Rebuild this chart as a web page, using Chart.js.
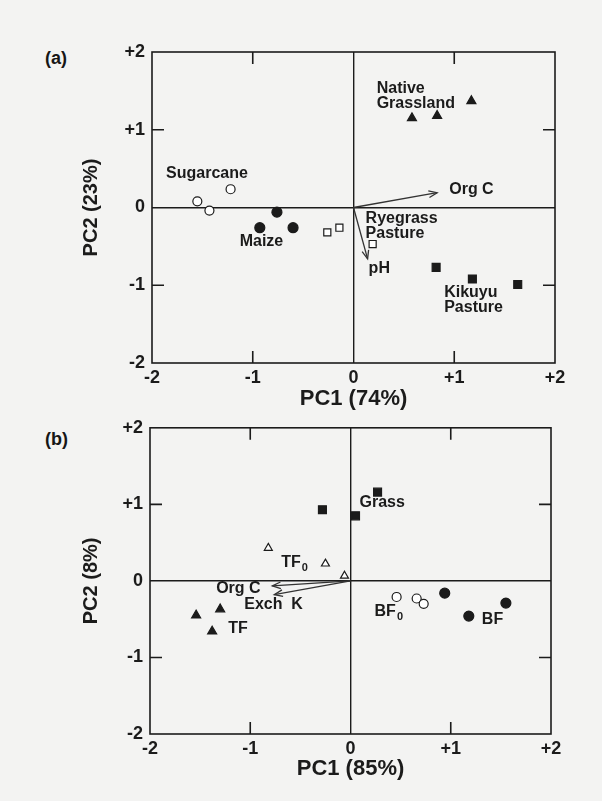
<!DOCTYPE html>
<html>
<head>
<meta charset="utf-8">
<script src="https://cdn.jsdelivr.net/npm/chart.js@4.4.1/dist/chart.umd.min.js"></script>
<style>
  body { margin: 0; background: #f3f3f2; width: 602px; height: 801px; overflow: hidden; position: relative; }
  .wrap { position: absolute; left: 0; width: 602px; }
  #wa { top: 0; height: 410px; }
  #wb { top: 410px; height: 391px; }
  .tag { position: absolute; left: 45px; font: bold 18px "Liberation Sans", Arial, sans-serif; color: #161616; }
</style>
</head>
<body>
<div class="tag" style="top:48px">(a)</div>
<div class="tag" style="top:429px">(b)</div>
<div class="wrap" id="wa"><canvas id="chartA"></canvas></div>
<div class="wrap" id="wb"><canvas id="chartB"></canvas></div>
<script>
// ---- panel (a) ----
const sugarcane = [{x: -1.55, y: 0.08}, {x: -1.43, y: -0.04}, {x: -1.22, y: 0.235}];
const maize = [{x: -0.93, y: -0.26}, {x: -0.76, y: -0.06}, {x: -0.60, y: -0.26}];
const ryegrass = [{x: -0.26, y: -0.32}, {x: -0.14, y: -0.26}, {x: 0.19, y: -0.47}];
const nativeGrass = [{x: 0.58, y: 1.15}, {x: 0.83, y: 1.18}, {x: 1.17, y: 1.37}];
const kikuyu = [{x: 0.82, y: -0.77}, {x: 1.18, y: -0.92}, {x: 1.63, y: -0.99}];
const arrowsA = [
  {x: 0.83, y: 0.19},   // Org C
  {x: 0.14, y: -0.66}   // pH
];
const labelsA = [
  {text: ["Sugarcane"], x: -1.86, y: 0.43},
  {text: ["Maize"], x: -1.13, y: -0.44},
  {text: ["Ryegrass", "Pasture"], x: 0.12, y: -0.14},
  {text: ["pH"], x: 0.15, y: -0.78},
  {text: ["Org C"], x: 0.95, y: 0.235},
  {text: ["Native", "Grassland"], x: 0.23, y: 1.53},
  {text: ["Kikuyu", "Pasture"], x: 0.9, y: -1.10}
];

// ---- panel (b) ----
const grass = [{x: -0.28, y: 0.93}, {x: 0.05, y: 0.85}, {x: 0.27, y: 1.16}];
const tf0 = [{x: -0.82, y: 0.43}, {x: -0.25, y: 0.225}, {x: -0.06, y: 0.065}];
const tf = [{x: -1.54, y: -0.45}, {x: -1.30, y: -0.37}, {x: -1.38, y: -0.66}];
const bf0 = [{x: 0.46, y: -0.21}, {x: 0.66, y: -0.23}, {x: 0.73, y: -0.30}];
const bf = [{x: 0.94, y: -0.16}, {x: 1.18, y: -0.46}, {x: 1.55, y: -0.29}];
const arrowsB = [
  {x: -0.78, y: -0.065},  // Org C
  {x: -0.76, y: -0.18}    // Exch K
];
const labelsB = [
  {text: ["Grass"], x: 0.09, y: 1.02},
  {text: ["TF"], sub: "0", x: -0.69, y: 0.24},
  {text: ["Org C"], x: -1.34, y: -0.10},
  {text: ["Exch  K"], x: -1.06, y: -0.31},
  {text: ["TF"], x: -1.22, y: -0.62},
  {text: ["BF"], sub: "0", x: 0.24, y: -0.40},
  {text: ["BF"], x: 1.31, y: -0.51}
];

const tickValues = [-2, -1, 0, 1, 2];
const tickText = ["-2", "-1", "0", "+1", "+2"];

const FONT = '"Liberation Sans", Arial, sans-serif';
const INK = "#1b1b1b";

function markers(data, style, filled, radius) {
  return {
    data: data,
    pointStyle: style,
    pointRadius: radius,
    pointHoverRadius: radius,
    pointBackgroundColor: filled ? INK : "#ffffff",
    pointBorderColor: INK,
    pointBorderWidth: 1.2,
    showLine: false
  };
}

function arrowLine(tip) {
  return {
    data: [{x: 0, y: 0}, tip],
    showLine: true,
    borderColor: "#333",
    borderWidth: 1.3,
    pointRadius: 0
  };
}

// frame, inward ticks, arrowheads and text labels
const decorate = {
  id: "decorate",
  afterDatasetsDraw(chart, args, opts) {
    const ctx = chart.ctx;
    const a = chart.chartArea;
    const xs = chart.scales.x, ys = chart.scales.y;
    ctx.save();
    ctx.strokeStyle = INK;
    ctx.lineWidth = 1.6;
    ctx.strokeRect(a.left, a.top, a.right - a.left, a.bottom - a.top);
    const tl = 12;
    ctx.beginPath();
    [-1, 1].forEach(v => {
      const px = xs.getPixelForValue(v);
      ctx.moveTo(px, a.top); ctx.lineTo(px, a.top + tl);
      ctx.moveTo(px, a.bottom); ctx.lineTo(px, a.bottom - tl);
      const py = ys.getPixelForValue(v);
      ctx.moveTo(a.left, py); ctx.lineTo(a.left + tl, py);
      ctx.moveTo(a.right, py); ctx.lineTo(a.right - tl, py);
    });
    ctx.stroke();

    // arrowheads
    ctx.strokeStyle = "#333";
    ctx.lineWidth = 1.3;
    opts.arrows.forEach(tip => {
      const x0 = xs.getPixelForValue(0), y0 = ys.getPixelForValue(0);
      const x1 = xs.getPixelForValue(tip.x), y1 = ys.getPixelForValue(tip.y);
      const ang = Math.atan2(y1 - y0, x1 - x0);
      const len = 9, spread = 0.38;
      ctx.beginPath();
      ctx.moveTo(x1 - len * Math.cos(ang - spread), y1 - len * Math.sin(ang - spread));
      ctx.lineTo(x1, y1);
      ctx.lineTo(x1 - len * Math.cos(ang + spread), y1 - len * Math.sin(ang + spread));
      ctx.stroke();
    });

    // labels
    ctx.fillStyle = INK;
    ctx.textBaseline = "middle";
    ctx.textAlign = "left";
    opts.labels.forEach(l => {
      const px = xs.getPixelForValue(l.x);
      let py = ys.getPixelForValue(l.y);
      l.text.forEach(line => {
        ctx.font = "bold 16px " + FONT;
        ctx.fillText(line, px, py);
        if (l.sub) {
          const w = ctx.measureText(line).width;
          ctx.font = "bold 11px " + FONT;
          ctx.fillText(l.sub, px + w + 1, py + 5);
        }
        py += 15;
      });
    });
    ctx.restore();
  }
};

function makeOptions(cfg) {
  const grid = {
    drawTicks: false,
    lineWidth: 1.4,
    color: c => (c.tick && c.tick.value === 0 ? INK : "rgba(0,0,0,0)")
  };
  return {
    responsive: true,
    maintainAspectRatio: false,
    animation: false,
    events: [],
    layout: {padding: {top: cfg.top, right: cfg.right, bottom: cfg.bottom, left: 0}},
    plugins: {
      legend: {display: false},
      tooltip: {enabled: false},
      decorate: {arrows: cfg.arrows, labels: cfg.labels}
    },
    scales: {
      x: {
        type: "linear", min: -2, max: 2,
        afterBuildTicks: s => { s.ticks = tickValues.map(v => ({value: v})); },
        afterFit: s => { s.height = cfg.xHeight; },
        grid: grid,
        border: {display: false},
        ticks: {
          color: INK, padding: 4,
          font: {family: FONT, size: 18, weight: "bold"},
          callback: v => tickText[tickValues.indexOf(v)]
        },
        title: {
          display: true, text: cfg.xTitle, color: INK,
          padding: {top: 2, bottom: 0},
          font: {family: FONT, size: 22, weight: "bold", lineHeight: 1}
        }
      },
      y: {
        type: "linear", min: -2, max: 2,
        afterBuildTicks: s => { s.ticks = tickValues.map(v => ({value: v})); },
        afterFit: s => { s.width = cfg.yWidth; },
        grid: grid,
        border: {display: false},
        ticks: {
          color: INK, padding: 7,
          font: {family: FONT, size: 18, weight: "bold"},
          callback: v => tickText[tickValues.indexOf(v)]
        },
        title: {
          display: true, text: cfg.yTitle, color: INK,
          padding: {top: 79, bottom: 0},
          font: {family: FONT, size: 20, weight: "bold"}
        }
      }
    }
  };
}

const chartA = new Chart(document.getElementById("chartA"), {
  type: "scatter",
  data: {
    datasets: [
      arrowLine(arrowsA[0]),
      arrowLine(arrowsA[1]),
      markers(sugarcane, "circle", false, 4.5),
      markers(maize, "circle", true, 5),
      markers(ryegrass, "rect", false, 5),
      markers(nativeGrass, "triangle", true, 5.2),
      markers(kikuyu, "rect", true, 5.6)
    ]
  },
  options: makeOptions({
    top: 52, right: 47, bottom: 0, xHeight: 47, yWidth: 152,
    xTitle: "PC1 (74%)", yTitle: "PC2 (23%)",
    arrows: arrowsA, labels: labelsA
  }),
  plugins: [decorate]
});

const chartB = new Chart(document.getElementById("chartB"), {
  type: "scatter",
  data: {
    datasets: [
      arrowLine(arrowsB[0]),
      arrowLine(arrowsB[1]),
      markers(grass, "rect", true, 5.6),
      markers(tf0, "triangle", false, 4.6),
      markers(tf, "triangle", true, 5.2),
      markers(bf0, "circle", false, 4.5),
      markers(bf, "circle", true, 5)
    ]
  },
  options: makeOptions({
    top: 16, right: 51, bottom: 21, xHeight: 46, yWidth: 150,
    xTitle: "PC1 (85%)", yTitle: "PC2 (8%)",
    arrows: arrowsB, labels: labelsB
  }),
  plugins: [decorate]
});
</script>
</body>
</html>
